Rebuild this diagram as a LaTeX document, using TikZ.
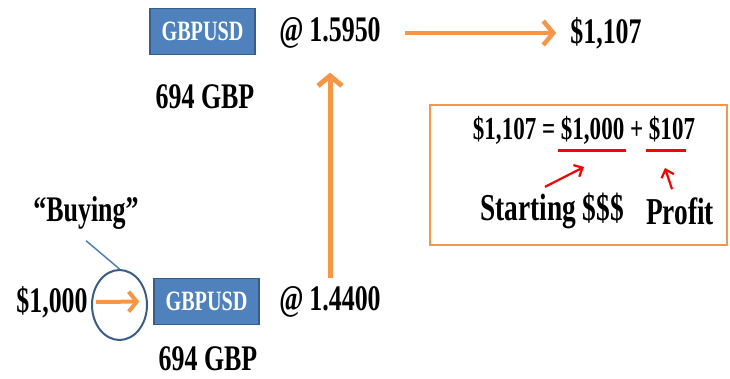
\documentclass[tikz,border=0pt]{standalone}
\usepackage{fontspec}
\setmainfont{Liberation Serif}[FakeStretch=0.72]
\usetikzlibrary{arrows.meta,shapes.geometric}
\definecolor{pairblue}{RGB}{79,129,189}
\definecolor{pairedge}{RGB}{56,93,138}
\definecolor{fxorange}{RGB}{247,150,70}
\definecolor{markred}{RGB}{255,0,0}

\tikzset{
  lbl/.style={font=\bfseries\fontsize{36}{36}\selectfont, inner sep=0pt},
  pairbox/.style={draw=pairedge, line width=1.5pt, fill=pairblue, text=white,
    font=\bfseries\fontsize{28}{28}\selectfont, minimum width=105pt,
    minimum height=46pt, inner sep=0pt},
  flow/.style={draw=fxorange, line width=4.5pt, -{Straight Barb[length=10pt,width=24pt]}},
  redline/.style={draw=markred, line width=3pt},
  redarrow/.style={draw=markred, line width=2.2pt, -{Straight Barb[length=7pt,width=13pt]}},
}

\begin{document}
\begin{tikzpicture}[x=1pt,y=-1pt]
\useasboundingbox (0,0) rectangle (730,379);
% top row
\node[pairbox] (pairTop) at (202.5,31.5) {GBPUSD};
\node[lbl] (rateTop) at (330,33) {@\,1.5950};
\node[lbl] (usdEnd) at (606,33) {\$1,107};
\node[lbl] (gbpTop) at (205,97) {694 GBP};
% bottom row
\node[lbl] (usdStart) at (52,302) {\$1,000};
\node[pairbox] (pairBot) at (206.5,301.5) {GBPUSD};
\node[lbl] (rateBot) at (330,302) {@\,1.4400};
\node[lbl] (gbpBot) at (208,359) {694 GBP};
\node[lbl] (buying) at (86,213) {``Buying''};
\node[draw=pairedge, line width=2pt, ellipse, minimum width=55pt,
  minimum height=70pt] (ring) at (119.5,305) {};
% the sum
\node[draw=fxorange, line width=2pt, minimum width=297pt,
  minimum height=140pt] (sumBox) at (578.5,175) {};
\node[lbl, font=\bfseries\fontsize{32}{32}\selectfont] (sumEq) at (584,130)
  {\$1,107 = \$1,000 + \$107};
\node[lbl, font=\bfseries\fontsize{38}{38}\selectfont] (startLbl) at (552,211) {Starting \$\$\$};
\node[lbl, font=\bfseries\fontsize{38}{38}\selectfont] (profitLbl) at (680,211) {Profit};
\coordinate (startTip) at (584,167);
\coordinate (profitTip) at (665,168);

\draw[flow] (rateTop.east) -- (usdEnd.west) [shorten <=24pt, shorten >=14pt];
\draw[flow, line width=5pt] (rateBot.north) -- (rateBot.north |- rateTop.south)
  [shorten <=8pt, shorten >=24pt];
\draw[flow, line width=4pt, -{Straight Barb[length=8pt,width=20pt]}]
  (usdStart.east) -- (pairBot.west) [shorten <=8pt, shorten >=14pt];
\draw[draw=pairblue, line width=1.5pt] ([yshift=-11pt]buying.south) -- (ring.north);
\draw[redline] (558,151) -- (626,151);
\draw[redline] (646,151) -- (686,151);
\draw[redarrow] ([xshift=-7pt,yshift=6pt]startLbl.north) -- (startTip);
\draw[redarrow] ([xshift=-8pt,yshift=8pt]profitLbl.north) -- (profitTip);
\end{tikzpicture}
\end{document}
